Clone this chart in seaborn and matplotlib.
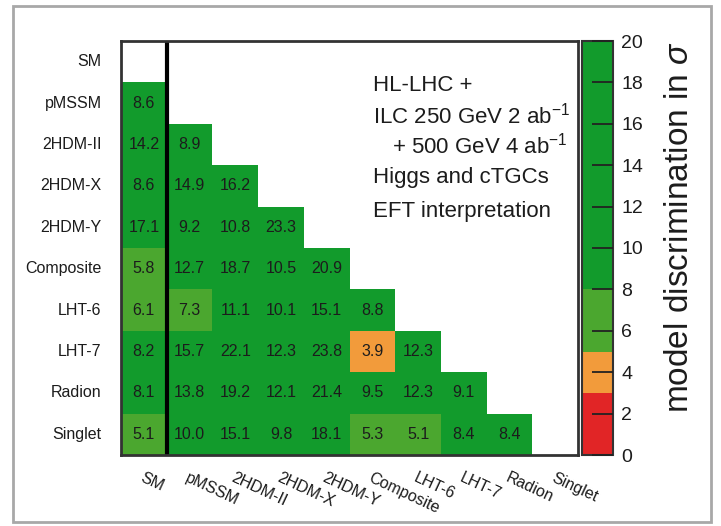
import numpy as np
import pandas as pd
import seaborn as sns
import matplotlib
matplotlib.use("Agg")
import matplotlib.pyplot as plt
from matplotlib.colors import ListedColormap, BoundaryNorm
from matplotlib.patches import Rectangle

# ---------------- data ----------------
models = ["SM", "pMSSM", "2HDM-II", "2HDM-X", "2HDM-Y",
          "Composite", "LHT-6", "LHT-7", "Radion", "Singlet"]

row_pMSSM = [8.6]
row_2HDM_II = [14.2, 8.9]
row_2HDM_X = [8.6, 14.9, 16.2]
row_2HDM_Y = [17.1, 9.2, 10.8, 23.3]
row_Composite = [5.8, 12.7, 18.7, 10.5, 20.9]
row_LHT6 = [6.1, 7.3, 11.1, 10.1, 15.1, 8.8]
row_LHT7 = [8.2, 15.7, 22.1, 12.3, 23.8, 3.9, 12.3]
row_Radion = [8.1, 13.8, 19.2, 12.1, 21.4, 9.5, 12.3, 9.1]
row_Singlet = [5.1, 10.0, 15.1, 9.8, 18.1, 5.3, 5.1, 8.4, 8.4]

rows = [row_pMSSM, row_2HDM_II, row_2HDM_X, row_2HDM_Y, row_Composite,
        row_LHT6, row_LHT7, row_Radion, row_Singlet]

levels = [0, 3, 5, 8, 20]
level_colors = ["#e12526", "#f29b3b", "#4ba72f", "#129b2c"]
cbar_ticks = list(range(0, 21, 2))

label_lines = ["HL-LHC +", "ILC 250 GeV 2 ab$^{-1}$", "+ 500 GeV 4 ab$^{-1}$",
               "Higgs and cTGCs", "EFT interpretation"]

# ---------------- figure ----------------
sns.set_theme(style="white")
plt.rcParams["font.family"] = ["Liberation Sans", "DejaVu Sans"]
plt.rcParams["mathtext.fontset"] = "custom"
plt.rcParams["mathtext.rm"] = "Liberation Sans"
plt.rcParams["mathtext.it"] = "Liberation Sans:italic"
plt.rcParams["axes.axisbelow"] = False

W, H = 721, 526
fig = plt.figure(figsize=(W / 100, H / 100), dpi=100)
fig.patch.set_facecolor("white")

ax_l, ax_r, ax_t, ax_b = 121, 578, 41, 455
ax = fig.add_axes([ax_l / W, 1 - ax_b / H, (ax_r - ax_l) / W, (ax_b - ax_t) / H])
cax = fig.add_axes([582 / W, 1 - ax_b / H, 31 / W, (ax_b - ax_t) / H])

mat = np.full((len(models), len(models)), np.nan)
for i, r in enumerate(rows):
    mat[i + 1, :len(r)] = r
df = pd.DataFrame(mat, index=models, columns=models)

cmap = ListedColormap(level_colors)
cmap.set_over(level_colors[-1])
cmap.set_under(level_colors[0])
norm = BoundaryNorm(levels, cmap.N)

txt_col = "#1c1c1c"
sns.heatmap(df, ax=ax, cmap=cmap, norm=norm, mask=np.isnan(mat),
            annot=True, fmt=".1f",
            annot_kws=dict(size=11.5, color=txt_col),
            cbar_ax=cax,
            cbar_kws=dict(ticks=cbar_ticks, spacing="proportional"),
            linewidths=0)

# borders of the matrix
for s in ax.spines.values():
    s.set_visible(True)
    s.set_color("#333333")
    s.set_linewidth(2)
ax.axvline(1, color="black", lw=3)

# tick labels
ax.set_yticks(np.arange(len(models)) + 0.5)
ax.set_yticklabels(models, rotation=0, fontsize=11.5, color=txt_col)
ax.set_xticks(np.arange(len(models)) + 0.5)
ax.set_xticklabels(models, fontsize=11.5, color=txt_col,
                   rotation=-25, ha="left", va="top", rotation_mode="anchor")
ax.tick_params(axis="y", length=0, pad=14)
ax.tick_params(axis="x", length=0, pad=11)
ax.set_xlabel("")
ax.set_ylabel("")

# text block
tx = [0.552, 0.552, 0.594, 0.552, 0.552]
ty = [0.879, 0.801, 0.729, 0.657, 0.574]
for x, y, s in zip(tx, ty, label_lines):
    ax.text(x, y, s, transform=ax.transAxes, fontsize=16, color=txt_col,
            ha="left", va="baseline")

# colorbar styling
cb = ax.collections[0].colorbar
cb.minorticks_off()
cb.outline.set_visible(True)
cb.outline.set_linewidth(1.5)
cb.outline.set_edgecolor("#333333")
cax.set_axisbelow(False)
cax.tick_params(axis="y", which="major", direction="in", length=15, width=1.3,
                color="#222222", labelsize=14, pad=6, labelcolor=txt_col,
                right=True, left=False)
cax.tick_params(axis="y", which="minor", length=0)
cax.set_ylabel("model discrimination in $\\sigma$", fontsize=24, color=txt_col, loc="top")
cax.yaxis.set_label_position("right")
cax.yaxis.set_label_coords(2.65, 1.0)

# outer gray frame
fig.add_artist(Rectangle((13 / W, 1 - 522 / H), (711 - 13) / W, (522 - 6) / H,
                         transform=fig.transFigure, fill=False,
                         edgecolor="#a8a8a8", lw=2))

fig.savefig("out.png", dpi=100)
